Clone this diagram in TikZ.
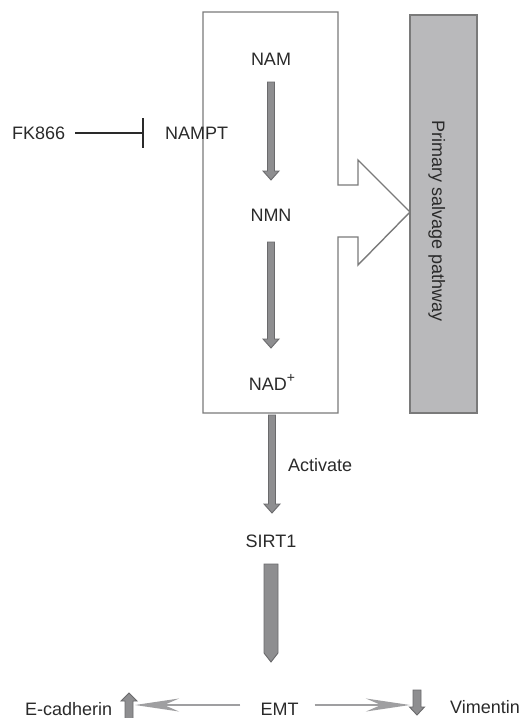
\documentclass[tikz,border=0pt]{standalone}
\usepackage{fontspec}
\setmainfont{Liberation Sans}
\usetikzlibrary{arrows.meta,calc}
\definecolor{arrowfill}{HTML}{8E8E90}
\definecolor{arrowedge}{HTML}{6A6A6C}
\definecolor{boxedge}{HTML}{7A7A7A}
\definecolor{salvagefill}{HTML}{B9B9BB}
\definecolor{labeltext}{HTML}{2A2A2A}

% grey block arrow pointing down: from, to, gap below from, gap above to, half shaft, half head, head length
\newcommand{\fatarrow}[7]{%
  \filldraw[fatarrow] let \p1=($(#1)+(0,#3)$), \p2=($(#2)+(0,-#4)$) in
    (\x1-#5pt,\y1) -- (\x1+#5pt,\y1) -- (\x1+#5pt,\y2+#7pt) -- (\x1+#6pt,\y2+#7pt)
    -- (\x1,\y2) -- (\x1-#6pt,\y2+#7pt) -- (\x1-#5pt,\y2+#7pt) -- cycle;}

\begin{document}
\begin{tikzpicture}[x=1pt, y=-1pt,
  txt/.style = {font=\fontsize{18}{21}\selectfont, text=labeltext, inner sep=0pt, text height=13pt, text depth=0pt},
  fatarrow/.style = {fill=arrowfill, draw=arrowedge, line width=0.9pt, line join=miter},
  salvage/.style = {draw=boxedge, fill=salvagefill, line width=1.4pt, minimum width=67pt, minimum height=398pt, inner sep=0pt},
  thinarrow/.style = {draw=arrowfill!85, line width=2.8pt, -{Stealth[length=44pt, width=13pt, inset=15pt]}},
  inhibit/.style = {draw=labeltext, line width=2.4pt, -{Bar[width=30pt, line width=2.4pt]}}]

\useasboundingbox (0,0) rectangle (520,718);

% Salvage box with its arrow
\draw[boxedge, line width=1.4pt, line join=miter] (203,12) -- (338,12) -- (338,185) -- (358,185) -- (358,160)
  -- (410,212) -- (358,265) -- (358,237) -- (338,237) -- (338,413) -- (203,413) -- cycle;
\node[salvage] (salvage) at (443.5,214) {};
\node[txt, rotate=-90] (salvagetext) at (438.5,221) {Primary salvage pathway};

% Nodes
\node[txt] (nam) at (271,59) {NAM};
\node[txt] (nmn) at (271,215) {NMN};
\node[txt] (nad) at (272,384) {NAD\raisebox{8pt}{\fontsize{14}{14}\selectfont +}};
\node[txt, anchor=west] (fk) at (12,133) {FK866};
\node[txt, anchor=west] (nampt) at (165,133) {NAMPT};
\node[txt, anchor=west] (activate) at (288,465) {Activate};
\node[txt] (sirt) at (271,541) {SIRT1};
\node[txt] (emt) at (279.5,709) {EMT};
\node[txt, anchor=west] (ecad) at (25,709) {E-cadherin};
\node[txt, anchor=west] (vim) at (450,707) {Vimentin};
\coordinate (ecadtip) at (135,705);
\coordinate (vimtip) at (410,705);

% Arrows
\fatarrow{nam}{nmn}{23}{35}{3.5}{8}{9}
\fatarrow{nmn}{nad}{27}{36}{3.5}{8}{9}
\fatarrow{nad}{sirt}{31}{28}{3.5}{8}{9}
\fatarrow{sirt}{emt}{23}{47}{7}{7}{9}
\draw[inhibit, shorten <=10pt, shorten >=21pt] (fk) -- (nampt);
\draw[thinarrow, shorten <=20pt] (emt.west |- ecadtip) -- (ecadtip);
\draw[thinarrow, shorten <=16pt] (emt.east |- vimtip) -- (vimtip);

% up / down markers
\filldraw[fatarrow] (125,719) -- (125,701) -- (121,701) -- (129,693) -- (137,701) -- (133,701) -- (133,719);
\filldraw[fatarrow] (413,690) -- (421,690) -- (421,707) -- (424.5,707) -- (417,715) -- (409.5,707) -- (413,707) -- cycle;
\end{tikzpicture}
\end{document}
